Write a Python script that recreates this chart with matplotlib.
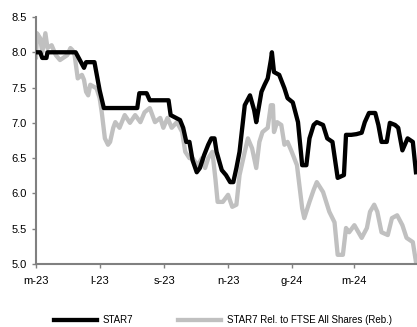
import matplotlib
matplotlib.use("Agg")
import matplotlib.pyplot as plt
import matplotlib.dates as mdates
from matplotlib.ticker import FuncFormatter
import pandas as pd

plt.rcParams['font.family'] = ['Liberation Sans', 'DejaVu Sans']

# series start date, points are given as day offsets from it
START = "2023-05-01"
END = "2024-04-30"

star7_days = [0, 4, 6, 10, 11, 38, 42, 46, 48, 56, 61, 65, 97, 99, 106, 109, 127,
              129, 138, 141, 144, 147, 150, 154, 157, 161, 165, 168, 171, 173, 178,
              182, 186, 189, 192, 195, 200, 205, 209, 211, 216, 219, 222, 225, 226,
              228, 233, 238, 241, 246, 251, 255, 259, 262, 266, 269, 275, 279, 284,
              289, 295, 297, 302, 307, 312, 315, 319, 325, 328, 331, 336, 339, 344,
              347, 351, 356, 361, 364]
star7_vals = [8.00, 8.00, 7.92, 7.92, 8.00, 8.00, 7.89, 7.78, 7.86, 7.86, 7.46, 7.21,
              7.21, 7.42, 7.42, 7.32, 7.32, 7.11, 7.04, 6.93, 6.73, 6.73, 6.47, 6.30,
              6.36, 6.54, 6.69, 6.78, 6.78, 6.59, 6.33, 6.26, 6.16, 6.16, 6.36, 6.59,
              7.25, 7.39, 7.18, 7.01, 7.44, 7.54, 7.63, 7.89, 8.00, 7.72, 7.68, 7.49,
              7.35, 7.29, 7.01, 6.40, 6.40, 6.78, 6.97, 7.01, 6.97, 6.78, 6.73, 6.22,
              6.26, 6.83, 6.83, 6.84, 6.86, 7.01, 7.14, 7.14, 6.97, 6.73, 6.73, 7.00,
              6.97, 6.93, 6.61, 6.78, 6.73, 6.30]

rel_days = [0, 1, 4, 6, 9, 11, 15, 19, 23, 27, 30, 33, 35, 37, 40, 44, 46, 48, 50,
            52, 58, 61, 63, 66, 69, 71, 74, 76, 80, 85, 90, 95, 100, 104, 109, 114,
            119, 122, 126, 130, 135, 140, 143, 147, 150, 155, 159, 162, 165, 169,
            172, 174, 179, 184, 188, 192, 195, 200, 203, 207, 211, 214, 217, 222,
            225, 227, 228, 231, 235, 238, 241, 245, 250, 255, 257, 262, 266, 269,
            275, 281, 286, 289, 294, 297, 300, 305, 312, 317, 320, 324, 327, 331,
            337, 341, 346, 351, 355, 361, 364]
rel_vals = [7.93, 8.27, 8.20, 8.00, 8.27, 8.06, 8.10, 7.96, 7.89, 7.93, 7.96, 8.06,
            8.03, 7.96, 7.63, 7.68, 7.61, 7.44, 7.39, 7.54, 7.49, 7.35, 7.15, 6.78,
            6.69, 6.73, 6.93, 7.01, 6.93, 7.11, 7.00, 7.11, 7.01, 7.15, 7.21, 7.01,
            7.07, 6.93, 7.07, 6.93, 7.01, 6.87, 6.59, 6.50, 6.50, 6.40, 6.50, 6.36,
            6.50, 6.59, 6.19, 5.88, 5.88, 5.98, 5.81, 5.84, 6.26, 6.59, 6.78, 6.64,
            6.36, 6.73, 6.87, 6.93, 7.25, 7.25, 6.87, 7.01, 6.97, 6.69, 6.73, 6.59,
            6.40, 5.79, 5.65, 5.88, 6.05, 6.16, 6.02, 5.74, 5.59, 5.13, 5.13, 5.51,
            5.45, 5.55, 5.37, 5.51, 5.74, 5.84, 5.74, 5.45, 5.41, 5.65, 5.69, 5.55,
            5.37, 5.31, 5.03]

series_labels = ["STAR7", "STAR7 Rel. to FTSE All Shares (Reb.)"]
y_ticks = [5.0, 5.5, 6.0, 6.5, 7.0, 7.5, 8.0, 8.5]
it_months = ["g", "f", "m", "a", "m", "g", "l", "a", "s", "o", "n", "d"]

start = pd.Timestamp(START)
star7_dates = start + pd.to_timedelta(star7_days, unit="D")
rel_dates = start + pd.to_timedelta(rel_days, unit="D")

fig = plt.figure(figsize=(4.17, 3.27), dpi=100)
ax = fig.add_axes([0.0863, 0.1927, 0.9137, 0.7553])

ax.plot(star7_dates, star7_vals, color="black", lw=3.1, label=series_labels[0],
        solid_joinstyle="round", zorder=3)
ax.plot(rel_dates, rel_vals, color="#c0c0c0", lw=3.1, label=series_labels[1],
        solid_joinstyle="round", zorder=2)

ax.set_xlim(start, pd.Timestamp(END))
ax.set_ylim(5.0, 8.5)
ax.set_yticks(y_ticks)
ax.yaxis.set_major_formatter(FuncFormatter(lambda v, p: f"{v:.1f}"))

ax.xaxis.set_major_locator(mdates.MonthLocator(bymonth=[1, 3, 5, 7, 9, 11]))
ax.xaxis.set_major_formatter(FuncFormatter(
    lambda v, p: f"{it_months[mdates.num2date(v).month - 1]}-{mdates.num2date(v).year % 100:02d}"))

for side in ["top", "right"]:
    ax.spines[side].set_visible(False)
for side in ["left", "bottom"]:
    ax.spines[side].set_color("#808080")
    ax.spines[side].set_linewidth(1.5)
ax.tick_params(axis="both", colors="#808080", length=3, width=1, labelcolor="black",
               labelsize=8)
ax.tick_params(axis="x", pad=6)

fig.legend(loc="lower center", bbox_to_anchor=(0.535, -0.022), ncol=2, frameon=False,
           fontsize=7, handlelength=4.4, columnspacing=4.6, handletextpad=0.6)

fig.savefig("out.png", dpi=100)
